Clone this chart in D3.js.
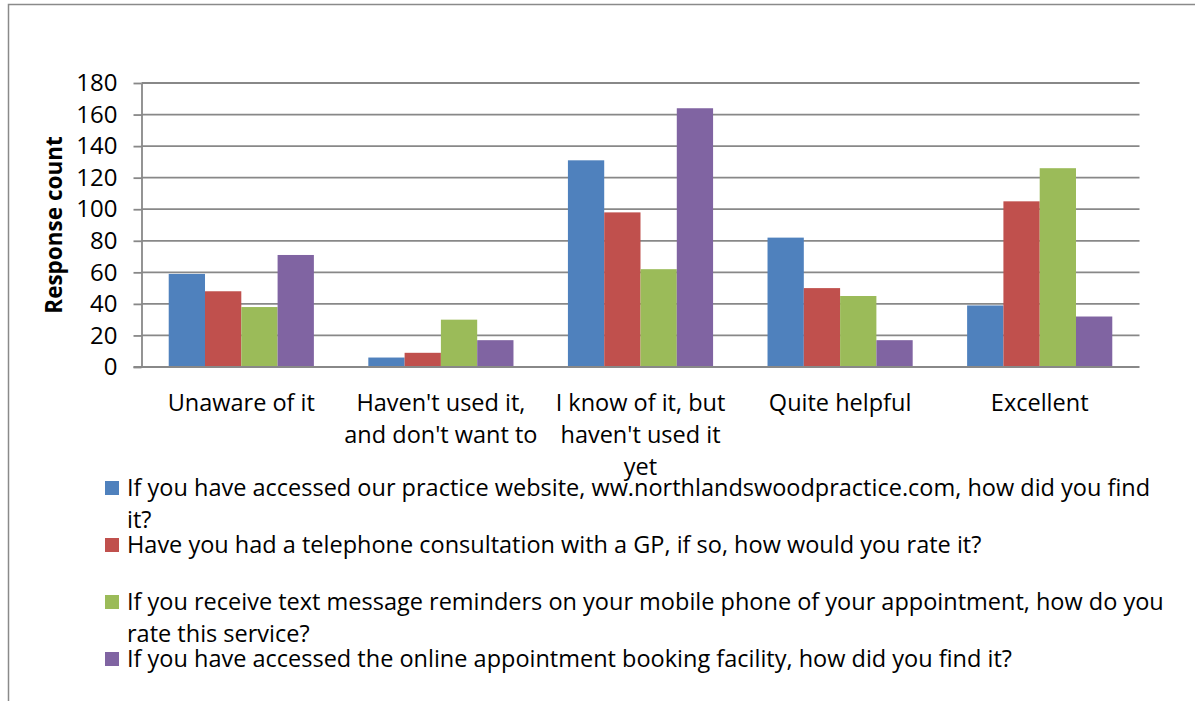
<!DOCTYPE html>
<html>
<head>
<meta charset="utf-8">
<script src="https://cdn.jsdelivr.net/npm/d3@7"></script>
<style>
  body { margin: 0; background: #fff; }
  svg text { font-family: "Open Sans", "Noto Sans", sans-serif; fill: #000; }
</style>
</head>
<body>
<svg id="chart" width="1195" height="701"></svg>
<script>
// Answer categories along the x axis (with the wrapped lines shown under each group)
const categories = [
  "Unaware of it",
  "Haven't used it, and don't want to",
  "I know of it, but haven't used it yet",
  "Quite helpful",
  "Excellent"
];
const categoryLines = [
  ["Unaware of it"],
  ["Haven't used it,", "and don't want to"],
  ["I know of it, but", "haven't used it", "yet"],
  ["Quite helpful"],
  ["Excellent"]
];

// Survey questions (one bar series each)
const seriesNames = [
  "If you have accessed our practice website, ww.northlandswoodpractice.com, how did you find it?",
  "Have you had a telephone consultation with a GP, if so, how would you rate it?",
  "If you receive text message reminders on your mobile phone of your appointment, how do you rate this service?",
  "If you have accessed the online appointment booking facility, how did you find it?"
];
const legendLines = [
  ["If you have accessed our practice website, ww.northlandswoodpractice.com, how did you find", "it?"],
  ["Have you had a telephone consultation with a GP, if so, how would you rate it?"],
  ["If you receive text message reminders on your mobile phone of your appointment, how do you", "rate this service?"],
  ["If you have accessed the online appointment booking facility, how did you find it?"]
];

// Response counts per category, one array per question
const websiteValues       = [59, 6, 131, 82, 39];
const telephoneValues     = [48, 9, 98, 50, 105];
const textReminderValues  = [38, 30, 62, 45, 126];
const onlineBookingValues = [71, 17, 164, 17, 32];

const yTicks = [0, 20, 40, 60, 80, 100, 120, 140, 160, 180];
const yTitle = "Response count";

const seriesColors = ["#4F81BD", "#C0504D", "#9BBB59", "#8064A2"];

const seriesValues = [websiteValues, telephoneValues, textReminderValues, onlineBookingValues];

const svg = d3.select("#chart");
const gridColor = "#888888";
const labelSize = "23.5px";

// chart frame
svg.append("rect")
  .attr("x", 8.5).attr("y", 4.5)
  .attr("width", 1200).attr("height", 720)
  .attr("fill", "none").attr("stroke", "#8a8a8a").attr("stroke-width", 1.5);

const plot = { left: 141.5, right: 1139.5, top: 83, bottom: 367 };

const x = d3.scaleBand().domain(categories).range([plot.left, plot.right]).paddingInner(0).paddingOuter(0);
const xs = d3.scaleBand().domain(d3.range(seriesNames.length)).range([0, x.bandwidth()])
  .paddingInner(0).paddingOuter(0.75);
const y = d3.scaleLinear().domain([0, 180]).range([plot.bottom, plot.top]);

// horizontal gridlines
svg.append("g").selectAll("line")
  .data(yTicks.filter(t => t !== 0))
  .join("line")
  .attr("x1", plot.left).attr("x2", plot.right)
  .attr("y1", d => y(d)).attr("y2", d => y(d))
  .attr("stroke", gridColor).attr("stroke-width", 1.8);

// bars
const groups = svg.append("g").selectAll("g")
  .data(seriesValues)
  .join("g")
  .attr("fill", (d, i) => seriesColors[i]);

groups.each(function(vals, si) {
  d3.select(this).selectAll("rect")
    .data(vals)
    .join("rect")
    .attr("x", (d, ci) => x(categories[ci]) + xs(si))
    .attr("width", xs.bandwidth())
    .attr("y", d => y(d))
    .attr("height", d => y(0) - y(d));
});

// y axis
const yAxis = svg.append("g")
  .attr("transform", `translate(${plot.left},0)`)
  .call(d3.axisLeft(y).tickValues(yTicks).tickSize(8).tickPadding(16).tickSizeOuter(0));
yAxis.select(".domain").attr("stroke", gridColor).attr("stroke-width", 1.8);
yAxis.selectAll(".tick line").attr("stroke", gridColor).attr("stroke-width", 1.8);
yAxis.selectAll(".tick text")
  .style("font-size", "24px")
  .attr("fill", "#000");

// baseline
svg.append("line")
  .attr("x1", plot.left - 8).attr("x2", plot.right)
  .attr("y1", y(0)).attr("y2", y(0))
  .attr("stroke", gridColor).attr("stroke-width", 1.8);

// y axis title
svg.append("text")
  .attr("transform", `translate(54,${(plot.top + plot.bottom) / 2}) rotate(-90)`)
  .attr("text-anchor", "middle")
  .attr("dy", "0.35em")
  .style("font-size", "22.5px")
  .style("font-weight", "bold")
  .text(yTitle);

// category labels
const catG = svg.append("g").selectAll("text")
  .data(categories)
  .join("text")
  .attr("text-anchor", "middle")
  .style("font-size", labelSize);
catG.each(function(c, i) {
  const cx = x(c) + x.bandwidth() / 2;
  d3.select(this).selectAll("tspan")
    .data(categoryLines[i])
    .join("tspan")
    .attr("x", cx)
    .attr("y", (d, k) => 403 + k * 32)
    .attr("dy", "0.35em")
    .text(d => d);
});

// legend
const legend = svg.append("g");
const legendTop = 488, legendStep = 57, lineStep = 32;
seriesNames.forEach((name, i) => {
  const cy = legendTop + i * legendStep;
  legend.append("rect")
    .attr("x", 105).attr("y", cy - 7)
    .attr("width", 14).attr("height", 14)
    .attr("fill", seriesColors[i]);
  const t = legend.append("text").style("font-size", labelSize);
  t.selectAll("tspan")
    .data(legendLines[i])
    .join("tspan")
    .attr("x", 127)
    .attr("y", (d, k) => cy + k * lineStep)
    .attr("dy", "0.35em")
    .text(d => d);
});
</script>
</body>
</html>
